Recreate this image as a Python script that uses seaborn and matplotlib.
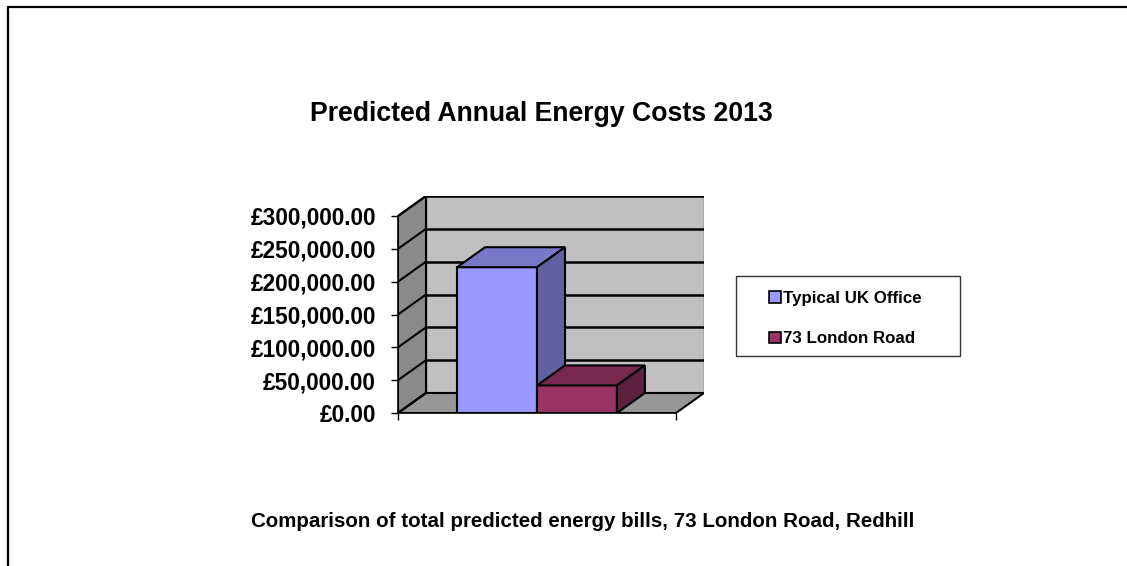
import numpy as np
import pandas as pd
import matplotlib
matplotlib.use("Agg")
import matplotlib.pyplot as plt
import seaborn as sns
from matplotlib.patches import Polygon, Rectangle
from matplotlib.lines import Line2D

# ---------------- data ----------------
group = ["2013", "2013"]
series = ["Typical UK Office", "73 London Road"]
costs = [222000, 42000]
front_colors = ["#9999ff", "#993366"]
top_colors = ["#7878c8", "#77284f"]
side_colors = ["#6161a0", "#5e2040"]
y_ticks = [0, 50000, 100000, 150000, 200000, 250000, 300000]
y_tick_labels = ["£0.00", "£50,000.00", "£100,000.00", "£150,000.00",
                 "£200,000.00", "£250,000.00", "£300,000.00"]
title = "Predicted Annual Energy Costs 2013"
caption = "Comparison of total predicted energy bills, 73 London Road, Redhill"

# ---------------- style ----------------
sns.set_style("white")
plt.rcParams["font.family"] = ["Liberation Sans", "DejaVu Sans"]
plt.rcParams["text.color"] = "black"
plt.rcParams["axes.labelcolor"] = "black"
plt.rcParams["xtick.color"] = "black"
plt.rcParams["ytick.color"] = "black"

W, H = 1127, 566
fig = plt.figure(figsize=(W / 100, H / 100), dpi=100)


def fx(px):
    return px / W


def fy(py):
    return 1 - py / H


# axes covers front plane plus 3D depth
ax = fig.add_axes([fx(398), fy(413), fx(704) - fx(398), fy(196) - fy(413)])
ax.patch.set_visible(False)

ymax = max(y_ticks)
dx = 28 / 278.0                    # depth in x units
D = 20 * ymax / 197.0              # depth in y units

df = pd.DataFrame({"group": group, "series": series, "cost": costs})
sns.barplot(data=df, x="group", y="cost", hue="series", hue_order=series,
            palette=front_colors, saturation=1, width=0.575,
            edgecolor="black", linewidth=1.5, legend=False, ax=ax)

# walls and floor
wall_lw = 1.5
ax.add_patch(Polygon([(-0.5 + dx, D), (0.5 + dx, D), (0.5 + dx, ymax + D), (-0.5 + dx, ymax + D)],
                     closed=True, facecolor="#c0c0c0", edgecolor="#555555", lw=1.0, zorder=0.5))
ax.add_patch(Polygon([(-0.5, 0), (-0.5, ymax), (-0.5 + dx, ymax + D), (-0.5 + dx, D)],
                     closed=True, facecolor="#8a8a8a", edgecolor="black", lw=wall_lw, zorder=0.6))
ax.add_patch(Polygon([(-0.5, 0), (0.5, 0), (0.5 + dx, D), (-0.5 + dx, D)],
                     closed=True, facecolor="#979797", edgecolor="black", lw=wall_lw, zorder=0.7))

# gridlines on back and side walls
for t in y_ticks:
    if t > 0:
        ax.plot([-0.5 + dx, 0.5 + dx], [t + D, t + D], color="black", lw=1.8, zorder=1,
                solid_capstyle="butt")
    ax.plot([-0.5, -0.5 + dx], [t, t + D], color="black", lw=1.5, zorder=1)

# 3D faces of bars
bars = sorted([p for p in ax.patches if isinstance(p, Rectangle)], key=lambda p: p.get_x())
bars = [b for b in bars if b.get_height() > 0]
for i, b in enumerate(bars):
    x0, w, h = b.get_x(), b.get_width(), b.get_height()
    x1 = x0 + w
    z = 3 + i
    b.set_zorder(z)
    ax.add_patch(Polygon([(x0, h), (x1, h), (x1 + dx, h + D), (x0 + dx, h + D)], closed=True,
                         facecolor=top_colors[i], edgecolor="black", lw=1.5, zorder=z))
    ax.add_patch(Polygon([(x1, 0), (x1, h), (x1 + dx, h + D), (x1 + dx, D)], closed=True,
                         facecolor=side_colors[i], edgecolor="black", lw=1.5, zorder=z))

ax.set_xlim(-0.5, 0.5 + dx)
ax.set_ylim(0, ymax + D)
ax.set_xlabel("")
ax.set_ylabel("")

for s in ["top", "right"]:
    ax.spines[s].set_visible(False)
ax.spines["left"].set_bounds(0, ymax)
ax.spines["bottom"].set_bounds(-0.5, 0.5)
ax.spines["left"].set_color("black")
ax.spines["bottom"].set_color("black")
ax.spines["left"].set_linewidth(1.2)
ax.spines["bottom"].set_linewidth(1.2)

ax.set_yticks(y_ticks, y_tick_labels)
ax.set_xticks([-0.5, 0.5], ["", ""])
ax.tick_params(axis="y", length=5, width=1, pad=11, direction="out", left=True,
               labelsize=16.3, colors="black")
ax.tick_params(axis="x", length=5, width=1, direction="out", bottom=True)
for lab in ax.get_yticklabels():
    lab.set_fontweight("bold")

# legend box and entries
fig.add_artist(Rectangle((fx(736), fy(356)), fx(960) - fx(736), fy(276) - fy(356),
                         transform=fig.transFigure, fill=False, edgecolor="#333333", lw=1.0))
handles = [Rectangle((0, 0), 1, 1, facecolor=c, edgecolor="black", lw=1.2) for c in front_colors]
leg = fig.legend(handles, series, loc="upper left", bbox_to_anchor=(fx(769), fy(291)),
                 frameon=False, prop=dict(weight="bold", size=12.2),
                 handlelength=0.7, handleheight=0.7, handletextpad=0.15,
                 labelspacing=1.5, borderpad=0, borderaxespad=0)
for t in leg.get_texts():
    t.set_color("black")

# texts
fig.text(fx(541), fy(121), title, ha="center", va="baseline", fontsize=19.2,
         fontweight="bold", color="black")
fig.text(fx(583), fy(527), caption, ha="center", va="baseline", fontsize=14.8,
         fontweight="bold", color="black")

# outer frame (top and left edges visible)
fig.add_artist(Line2D([fx(7.5), 1.0], [fy(6.7), fy(6.7)], color="black", lw=1.6,
                      transform=fig.transFigure))
fig.add_artist(Line2D([fx(7.5), fx(7.5)], [fy(6.7), 0.0], color="black", lw=1.6,
                      transform=fig.transFigure))

fig.savefig("out.png", dpi=100)
